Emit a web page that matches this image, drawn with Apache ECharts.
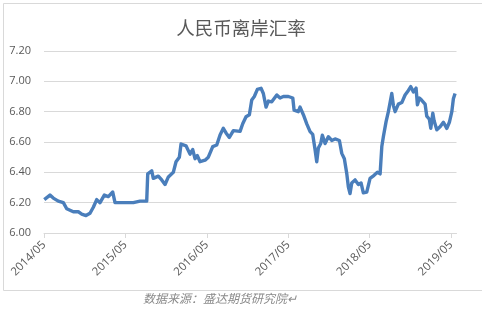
<!DOCTYPE html>
<html>
<head>
<meta charset="utf-8">
<script src="https://cdn.jsdelivr.net/npm/echarts@6/dist/echarts.min.js"></script>
<style>
html,body{margin:0;padding:0;background:#fff;}
#c{width:482px;height:311px;}
</style>
</head>
<body>
<div id="c"></div>
<script>
// Months elapsed since 2014/05 (x position of each reading)
var months = [0.04,0.88,1.37,2.11,2.85,3.35,4.32,5.06,5.56,6.19,6.78,7.27,7.77,8.26,8.89,9.48,10.13,10.47,11.2,11.94,13.17,14.15,15.14,15.29,15.38,15.88,16.11,16.85,17.35,17.84,18.33,19.06,19.46,19.95,20.2,20.93,21.52,21.92,22.26,22.6,23.0,23.74,24.22,24.87,25.46,25.95,26.43,26.83,27.32,27.91,28.9,29.29,29.78,30.27,30.62,31.0,31.45,31.99,32.33,32.73,33.07,33.57,34.31,34.79,35.28,36.02,36.67,36.86,37.49,37.74,38.23,38.73,39.22,39.61,39.95,40.2,40.44,40.79,41.03,41.43,41.91,42.41,42.9,43.54,43.89,44.27,44.63,44.86,45.11,45.36,45.85,46.34,46.73,47.07,47.57,48.06,48.65,49.14,49.54,49.79,50.02,50.42,50.76,51.26,51.5,51.75,52.23,52.74,53.22,53.71,54.06,54.45,54.84,55.04,55.33,55.68,56.17,56.42,56.8,57.01,57.31,57.5,57.9,58.38,58.87,59.37,59.75,60.11,60.34,60.59];
// Offshore RMB rate (USD/CNH)
var rates = [6.22,6.25,6.23,6.21,6.20,6.16,6.14,6.14,6.125,6.115,6.13,6.17,6.22,6.20,6.25,6.24,6.27,6.20,6.20,6.20,6.20,6.21,6.21,6.39,6.40,6.41,6.36,6.375,6.35,6.32,6.37,6.40,6.47,6.50,6.587,6.575,6.52,6.55,6.49,6.51,6.47,6.48,6.50,6.57,6.58,6.646,6.69,6.66,6.63,6.675,6.67,6.72,6.767,6.78,6.877,6.90,6.947,6.954,6.92,6.83,6.87,6.865,6.91,6.89,6.90,6.90,6.89,6.81,6.80,6.83,6.78,6.72,6.668,6.65,6.55,6.47,6.56,6.59,6.645,6.59,6.635,6.61,6.62,6.61,6.525,6.49,6.39,6.305,6.26,6.33,6.35,6.32,6.33,6.265,6.27,6.36,6.38,6.40,6.39,6.57,6.635,6.734,6.80,6.92,6.84,6.80,6.85,6.86,6.91,6.94,6.965,6.93,6.955,6.845,6.89,6.875,6.85,6.77,6.75,6.69,6.79,6.74,6.68,6.70,6.73,6.69,6.73,6.80,6.885,6.92];
// Tick labels on the x axis (months since 2014/05)
var xTickMonths = [0,12,24,36,48,60];
var xTickLabels = ['2014/05','2015/05','2016/05','2017/05','2018/05','2019/05'];
var yTicks = [6.00,6.20,6.40,6.60,6.80,7.00,7.20];

var titleText = '人民币离岸汇率';
var sourceText = '数据来源：盛达期货研究院↵';

var data = months.map(function(m,i){return [m, rates[i]];});

var chart = echarts.init(document.getElementById('c'), null, {renderer:'canvas'});
chart.setOption({
  animation:false,
  backgroundColor:'#ffffff',
  title:{
    text:titleText, left:'center', top:14,
    textStyle:{fontFamily:'Noto Sans CJK SC', fontSize:18.5, fontWeight:'normal', color:'#595959'}
  },
  grid:{left:44, right:25.5, top:51, bottom:78, containLabel:false},
  xAxis:{
    type:'value', min:0, max:60.8,
    axisLine:{show:true, lineStyle:{color:'#d9d9d9', width:1}},
    axisTick:{show:true, length:5, lineStyle:{color:'#d9d9d9'}, customValues:xTickMonths},
    axisLabel:{
      customValues:xTickMonths,
      rotate:45, margin:10,
      color:'#595959', fontFamily:'Open Sans', fontSize:11.5,
      formatter:function(v){var i=xTickMonths.indexOf(Math.round(v)); return i>=0?xTickLabels[i]:'';}
    },
    splitLine:{show:false}
  },
  yAxis:{
    type:'value', min:yTicks[0], max:yTicks[yTicks.length-1], interval:0.2,
    axisLine:{show:false}, axisTick:{show:false},
    axisLabel:{color:'#595959', fontFamily:'Open Sans', fontSize:11, margin:13,
      formatter:function(v){return v.toFixed(2);}},
    splitLine:{show:true, lineStyle:{color:'#d9d9d9', width:1}}
  },
  series:[{
    type:'line', data:data, showSymbol:false, smooth:false,
    lineStyle:{color:'#4a7ebb', width:3.4, join:'round'},
    itemStyle:{color:'#4a7ebb'}
  }],
  graphic:[
    {type:'rect', left:1, top:1, shape:{width:479, height:287},
     style:{fill:null, stroke:'#d9d9d9', lineWidth:1}, silent:true, z:-1},
    {type:'text', left:143, top:292,
     style:{text:sourceText, fill:'#8a8a8a', font:'italic 12px "Noto Sans CJK SC"'}}
  ]
});
</script>
</body>
</html>
